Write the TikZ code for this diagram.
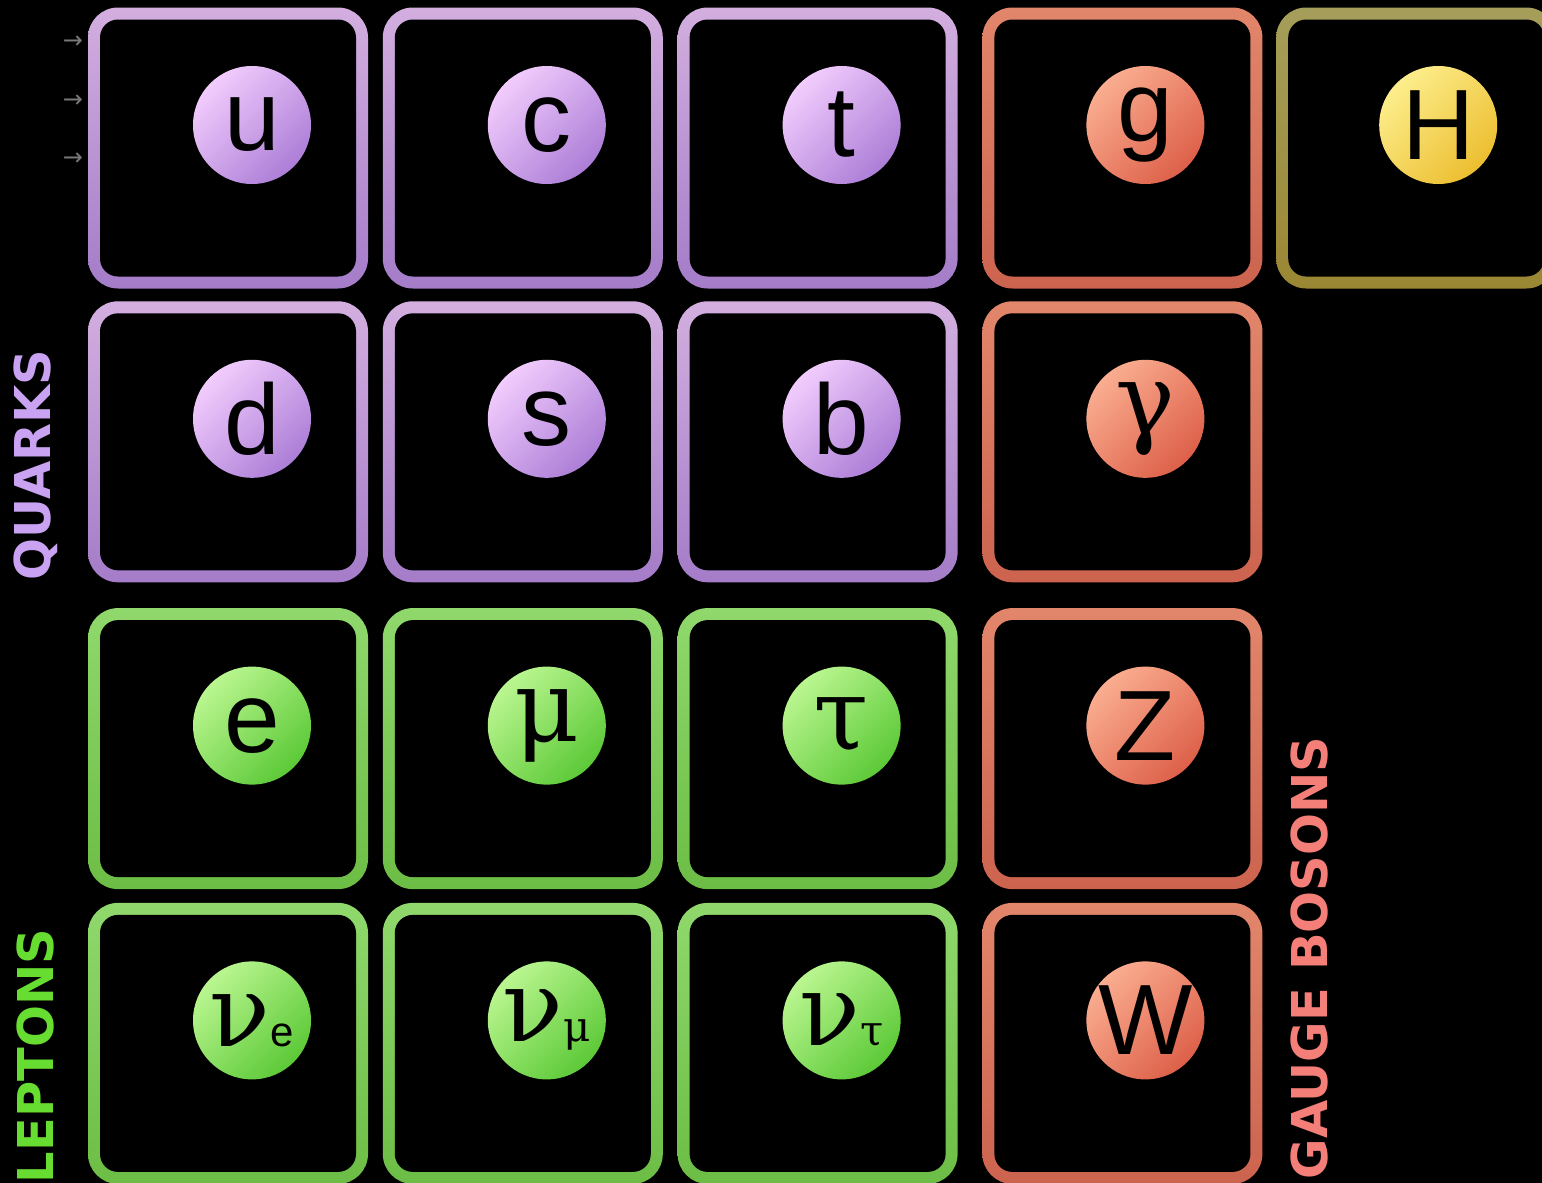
\documentclass[tikz,border=0pt]{standalone}
\usepackage{fontspec}
\usepackage{tikz}
\usetikzlibrary{positioning,calc}
\newfontfamily\partfont{Liberation Sans}
\newfontfamily\greekfont{DejaVu Serif}
\newfontfamily\labfont{DejaVu Sans}
\definecolor{qLine}{HTML}{D3AEDF}
\definecolor{qLineDk}{HTML}{A47CC8}
\definecolor{qBallLt}{HTML}{F2CCFD}
\definecolor{qBallDk}{HTML}{AC7ED7}
\definecolor{lLine}{HTML}{90D86C}
\definecolor{lLineDk}{HTML}{6CBD45}
\definecolor{lBallLt}{HTML}{BAF690}
\definecolor{lBallDk}{HTML}{5CC937}
\definecolor{gLine}{HTML}{E2866B}
\definecolor{gLineDk}{HTML}{CC634E}
\definecolor{gBallLt}{HTML}{FAAD90}
\definecolor{gBallDk}{HTML}{DD6049}
\definecolor{hLine}{HTML}{A59E5A}
\definecolor{hLineDk}{HTML}{9A8733}
\definecolor{hBallLt}{HTML}{FDEE8C}
\definecolor{hBallDk}{HTML}{ECBE30}
\definecolor{qText}{HTML}{C9A3F2}
\definecolor{lText}{HTML}{66DD30}
\definecolor{gText}{HTML}{F47E78}
\definecolor{tickGrey}{HTML}{787878}

\begin{document}
\begin{tikzpicture}[
  x=0.5pt,y=-0.5pt,
  node distance=7pt,
  cell/.style={minimum width=140pt,minimum height=140.5pt,inner sep=0pt,
               rounded corners=15pt,
               path picture={\fill[black,rounded corners=9pt]
                 ($(path picture bounding box.south west)+(6pt,6pt)$) rectangle
                 ($(path picture bounding box.north east)+(-6pt,-6pt)$);}},
  qcell/.style={cell,top color=qLine,bottom color=qLineDk},
  lcell/.style={cell,top color=lLine,bottom color=lLineDk},
  gcell/.style={cell,top color=gLine,bottom color=gLineDk},
  hcell/.style={cell,top color=hLine,bottom color=hLineDk},
  ball/.style={circle,minimum size=59pt,inner sep=0pt,text=black,
               font=\partfont\fontsize{50}{60}\selectfont},
  quark/.style={ball,top color=qBallLt,bottom color=qBallDk,shading angle=45},
  lepton/.style={ball,top color=lBallLt,bottom color=lBallDk,shading angle=45},
  boson/.style={ball,top color=gBallLt,bottom color=gBallDk,shading angle=45},
  higgs/.style={ball,top color=hBallLt,bottom color=hBallDk,shading angle=45},
  gr/.style={font=\greekfont\fontsize{50}{60}\selectfont},
  lab/.style={rotate=90,inner sep=0pt,font=\labfont\bfseries\fontsize{24.7}{30}\selectfont},
  tick/.style={inner sep=0pt,text=tickGrey,font=\labfont\fontsize{12}{14}\selectfont}]

\fill[black] (0,0) rectangle (1542,1183);
\useasboundingbox (0,0) rectangle (1542,1183);
\clip (0,0) rectangle (1542,1183);

% cells
\node[qcell] (cu) at (228,148) {};
\node[qcell,right=of cu] (cc) {};
\node[qcell,right=of cc] (ct) {};
\node[gcell,right=12pt of ct] (cg) {};
\node[hcell,right=6.5pt of cg] (cH) {};
\node[qcell,below=6pt of cu] (cd) {};
\node[qcell,right=of cd] (cs) {};
\node[qcell,right=of cs] (cb) {};
\node[gcell,right=12pt of cb] (cgam) {};
\node[lcell,below=12.5pt of cd] (ce) {};
\node[lcell,right=of ce] (cmu) {};
\node[lcell,right=of cmu] (ctau) {};
\node[gcell,right=12pt of ctau] (cZ) {};
\node[lcell,below=6.5pt of ce] (cnue) {};
\node[lcell,right=of cnue] (cnumu) {};
\node[lcell,right=of cnumu] (cnutau) {};
\node[gcell,right=12pt of cnutau] (cW) {};

% particles
\node[quark] (u) at ($(cu)+(12pt,11.5pt)$) {u};
\node[quark] (c) at ($(cc)+(12pt,11.5pt)$) {c};
\node[quark] (t) at ($(ct)+(12pt,11.5pt)$) {t};
\node[boson] (g) at ($(cg)+(11.5pt,11.5pt)$) {g};
\node[higgs] (H) at ($(cH)+(11pt,11.5pt)$) {H};
\node[quark] (d) at ($(cd)+(12pt,11.5pt)$) {d};
\node[quark] (s) at ($(cs)+(12pt,11.5pt)$) {s};
\node[quark] (b) at ($(cb)+(12pt,11.5pt)$) {b};
\node[boson,gr] (gam) at ($(cgam)+(11.5pt,11.5pt)$) {γ};
\node[lepton] (e) at ($(ce)+(12pt,11.5pt)$) {e};
\node[lepton,gr] (mu) at ($(cmu)+(12pt,11.5pt)$) {μ};
\node[lepton,gr] (tau) at ($(ctau)+(12pt,11.5pt)$) {τ};
\node[boson] (Z) at ($(cZ)+(11.5pt,11.5pt)$) {Z};
\node[lepton,gr] (nue) at ($(cnue)+(12pt,11.5pt)$) {ν{\partfont\fontsize{21}{24}\selectfont e}};
\node[lepton,gr] (numu) at ($(cnumu)+(12pt,11.5pt)$) {ν{\fontsize{21}{24}\selectfont μ}};
\node[lepton,gr] (nutau) at ($(cnutau)+(12pt,11.5pt)$) {ν{\fontsize{21}{24}\selectfont τ}};
\node[boson] (W) at ($(cW)+(11.5pt,11.5pt)$) {W};

% group labels
\node[lab,text=qText] (quarks) at (36,465) {QUARKS};
\node[lab,text=lText] (leptons) at (36,1056) {LEPTONS};
\node[lab,text=gText] (bosons) at (1310,958) {GAUGE BOSONS};

\node[tick] (k1) at (73,42) {→};
\node[tick] (k2) at (73,101) {→};
\node[tick] (k3) at (73,159) {→};
\end{tikzpicture}
\end{document}
